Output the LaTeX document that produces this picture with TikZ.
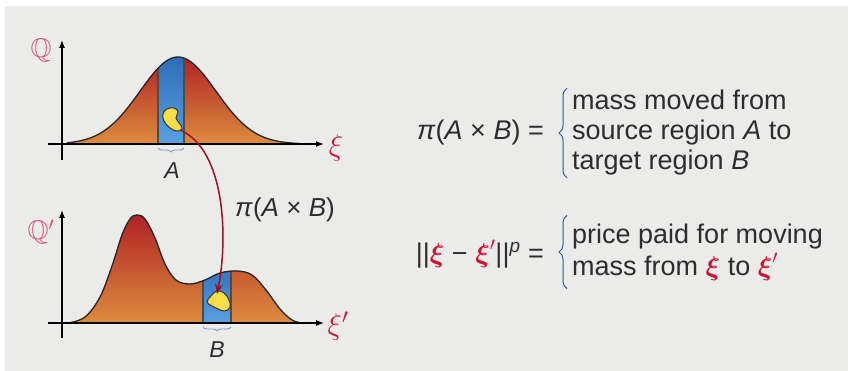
\documentclass[tikz,border=0pt]{standalone}
\usepackage{fix-cm}
\usepackage{amsmath, amssymb}
\usepackage{fontspec}
\setmainfont{Liberation Sans}
\usetikzlibrary{arrows.meta, decorations.pathreplacing, positioning}
\definecolor{panelGrey}{RGB}{235, 235, 233}
\definecolor{massRed}{RGB}{176, 34, 36}
\definecolor{massOrange}{RGB}{220, 140, 62}
\definecolor{bandBlue}{RGB}{38, 100, 176}
\definecolor{bandLight}{RGB}{90, 160, 225}
\definecolor{xiRed}{RGB}{204, 20, 54}
\definecolor{qPink}{RGB}{214, 84, 116}
\definecolor{braceBlue}{RGB}{44, 92, 152}
\definecolor{blobYellow}{RGB}{246, 222, 72}
\definecolor{arrowRed}{RGB}{158, 16, 40}
\definecolor{inkGrey}{RGB}{45, 45, 45}
\newcommand{\bigtimes}{\hspace{0.28em}×\hspace{0.28em}}

\begin{document}
\begin{tikzpicture}[x=1pt, y=-1pt,
    axis/.style={line width=1.1pt, -{Latex[length=8pt,width=6pt]}},
    mass/.style={top color=massRed, bottom color=massOrange},
    outline/.style={draw=black!85, line width=1.3pt},
    band/.style={top color=bandBlue, bottom color=bandLight, draw=black!70, line width=1.4pt},
    blob/.style={fill=blobYellow, draw=black!80, line width=1pt},
    subbrace/.style={decorate, decoration={brace, mirror, amplitude=4pt}, draw=braceBlue!60, line width=0.9pt},
    bigbrace/.style={decorate, decoration={brace, amplitude=8pt}, draw=braceBlue, line width=1pt},
    txt/.style={font=\fontsize{27}{30}\selectfont, text=inkGrey, align=left, inner sep=0pt}]
  \useasboundingbox (0,0) rectangle (848,371);
  \fill[white] (0,0) rectangle (848,371);
  \fill[panelGrey] (5,6) rectangle (848,371);

  % source measure
  \fill[mass] plot[domain=67:300, samples=90] (\x, {144-87*exp(-0.5*((\x-178)/38)^2)}) -- cycle;
  \begin{scope}
    \clip plot[domain=67:300, samples=90] (\x, {144-87*exp(-0.5*((\x-178)/38)^2)}) -- cycle;
    \filldraw[band] (158,40) rectangle (184,144);
  \end{scope}
  \draw[outline] plot[domain=67:300, samples=90] (\x, {144-87*exp(-0.5*((\x-178)/38)^2)});
  \draw[axis] (62,160) -- (62,40);
  \draw[axis] (48,144) -- (324,144);
  \node[font=\fontsize{27}{27}\selectfont, text=qPink] (qTop) at (41,50) {$\mathbb{Q}$};
  \node[font=\fontsize{30}{30}\selectfont, text=xiRed] (xiTop) at (336,148) {$\xi$};
  \draw[subbrace] (158,148) -- (184,148);
  \node[txt, font=\fontsize{23}{23}\selectfont\itshape] (labA) at (172,171) {A};

  % target measure
  \fill[mass] plot[smooth, tension=0.6] coordinates {(68,323) (85,317) (100,297) (112,266) (122,235) (130,219) (137,215) (145,219) (155,238) (165,264) (176,280) (190,284) (205,280) (220,273) (237,271) (252,275) (266,290) (280,309) (292,320) (302,323)} -- cycle;
  \begin{scope}
    \clip plot[smooth, tension=0.6] coordinates {(68,323) (85,317) (100,297) (112,266) (122,235) (130,219) (137,215) (145,219) (155,238) (165,264) (176,280) (190,284) (205,280) (220,273) (237,271) (252,275) (266,290) (280,309) (292,320) (302,323)} -- cycle;
    \filldraw[band] (203,250) rectangle (231,323);
  \end{scope}
  \draw[outline] plot[smooth, tension=0.6] coordinates {(68,323) (85,317) (100,297) (112,266) (122,235) (130,219) (137,215) (145,219) (155,238) (165,264) (176,280) (190,284) (205,280) (220,273) (237,271) (252,275) (266,290) (280,309) (292,320) (302,323)};
  \draw[axis] (62,338) -- (62,210);
  \draw[axis] (48,323) -- (324,323);
  \node[font=\fontsize{27}{27}\selectfont, text=qPink] (qBot) at (41,232) {$\mathbb{Q}'$};
  \node[font=\fontsize{30}{30}\selectfont, text=xiRed] (xiBot) at (338,326) {$\xi'$};
  \draw[subbrace] (203,327) -- (231,327);
  \node[txt, font=\fontsize{23}{23}\selectfont\itshape] (labB) at (217,350) {B};

  % transported mass
  \draw[blob] plot[smooth cycle, tension=0.7] coordinates {(167,109) (174,108) (178,112) (176,118) (180,124) (182,129) (177,131) (170,128) (164,121) (163,114)};
  \draw[blob] plot[smooth cycle, tension=0.7] coordinates {(211,296) (217,291) (224,293) (229,300) (230,307) (225,311) (218,309) (212,306) (207,302)};
  \coordinate (blobA) at (180,130);
  \coordinate (blobB) at (217,294);
  \draw[arrowRed, line width=1.5pt, -{Stealth[length=10pt,width=8pt]}] (blobA) .. controls (226,150) and (228,240) .. (blobB);
  \node[txt, font=\fontsize{26}{26}\selectfont] (piLab) at (285,210) {\textit{π}(\textit{A}\bigtimes\textit{B})};

  % interpretation
  \node[txt, anchor=west] (rhsTop) at (572,133) {mass moved from\\source region \textit{A} to\\target region \textit{B}};
  \node[txt, anchor=east] (lhsTop) at (544,133) {\textit{π}(\textit{A}\bigtimes\textit{B}) =};
  \draw[bigbrace] ([xshift=-5pt, yshift=-2pt]rhsTop.south west) -- ([xshift=-5pt, yshift=2pt]rhsTop.north west);
  \node[txt, anchor=west, font=\fontsize{27}{32}\selectfont] (rhsBot) at (572,252) {price paid for moving\\mass from {\color{xiRed}$\boldsymbol{\xi}$} to {\color{xiRed}$\boldsymbol{\xi}'$}};
  \node[txt, anchor=east] (lhsBot) at (544,254) {||{\color{xiRed}$\boldsymbol{\xi}$} − {\color{xiRed}$\boldsymbol{\xi}'$}||\textsuperscript{\textit{p}} =};
  \draw[bigbrace] ([xshift=-5pt, yshift=-8pt]rhsBot.south west) -- ([xshift=-5pt, yshift=8pt]rhsBot.north west);
\end{tikzpicture}
\end{document}
